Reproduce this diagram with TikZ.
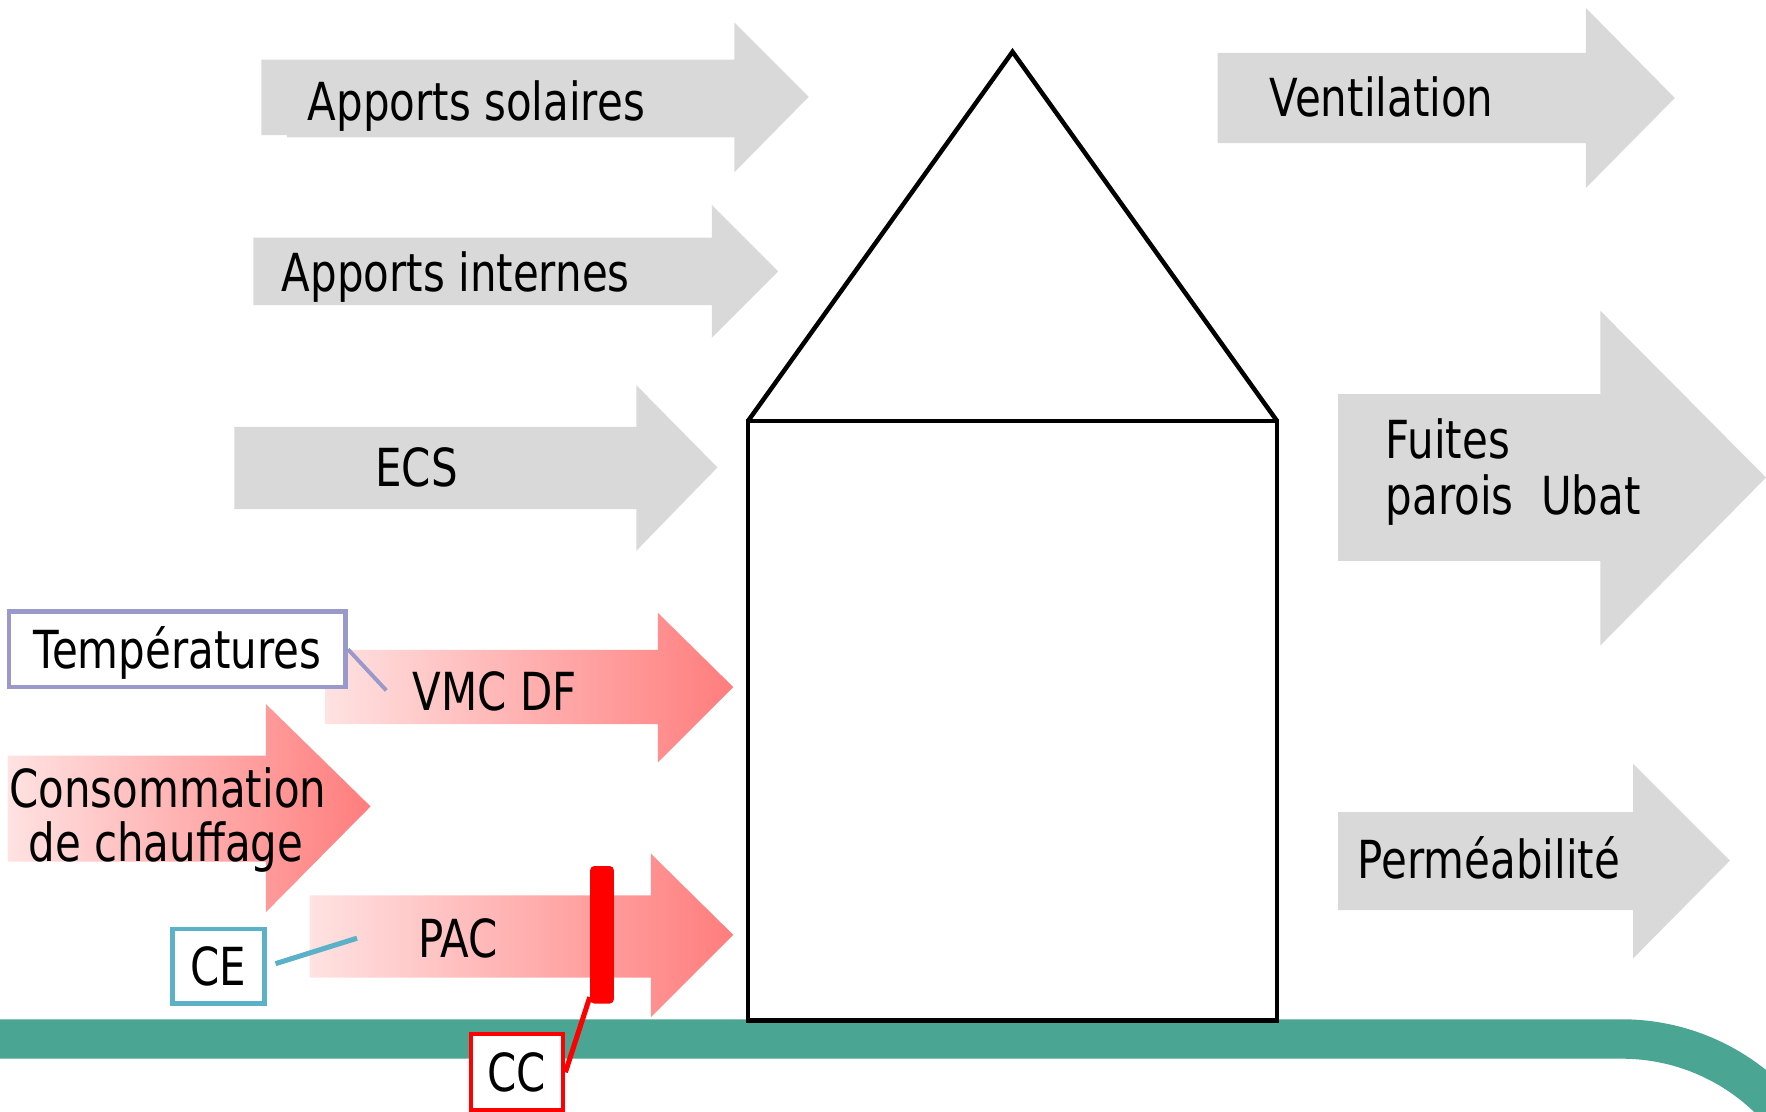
\documentclass[tikz,border=0pt]{standalone}
\usepackage{fontspec}
\setmainfont[FakeStretch=0.8]{DejaVu Sans}
\definecolor{arrgrey}{HTML}{D9D9D9}
\definecolor{lavend}{HTML}{9999CC}
\definecolor{cecol}{HTML}{5BB2C8}
\definecolor{bandgreen}{HTML}{4AA593}
\definecolor{pinkL}{RGB}{255,226,226}
\definecolor{pinkR}{RGB}{255,125,125}
\begin{document}
\begin{tikzpicture}[x=0.02cm,y=-0.02cm,
  every node/.style={font=\fontsize{26.5}{28}\selectfont},
  lbl/.style={anchor=base west,inner sep=0pt},
  greyarrow/.style={fill=arrgrey,draw=none},
  redarrow/.style={left color=pinkL,right color=pinkR,draw=none},
  housestyle/.style={draw=black,line width=0.08cm,line join=miter},
  tagbox/.style={draw,fill=white,line width=0.08cm,inner sep=0pt,text height=19.3pt,text depth=0pt},
  ]
\useasboundingbox (0,0) rectangle (1568,987);
% green band
\draw[bandgreen,line width=0.7cm] (-5,922.5) -- (1440,922.5) arc[start angle=270,end angle=345,radius=187];
% grey arrows
\path[greyarrow] (232,53) -- (652,53) -- (652,20) -- (718,86) -- (652,153) -- (652,122) -- (255,122) -- (255,120) -- (232,120) -- cycle;
\path[greyarrow] (225,211) -- (632,211) -- (632,182) -- (691,241) -- (632,300) -- (632,271) -- (225,271) -- cycle;
\path[greyarrow] (208,379) -- (565,379) -- (565,342) -- (637,415) -- (565,489) -- (565,452) -- (208,452) -- cycle;
\path[greyarrow] (1081,47) -- (1408,47) -- (1408,7) -- (1487,87) -- (1408,167) -- (1408,127) -- (1081,127) -- cycle;
\path[greyarrow] (1188,350) -- (1421,350) -- (1421,276) -- (1568,424) -- (1421,573) -- (1421,498) -- (1188,498) -- cycle;
\path[greyarrow] (1188,721) -- (1450,721) -- (1450,678) -- (1536,764) -- (1450,851) -- (1450,808) -- (1188,808) -- cycle;
% red arrows
\path[redarrow] (289,577) -- (584,577) -- (584,544) -- (651,610) -- (584,677) -- (584,643) -- (289,643) -- cycle;
\path[redarrow] (7,671) -- (236,671) -- (236,625) -- (329,716) -- (236,810) -- (236,765) -- (7,765) -- cycle;
\path[redarrow] (275,795) -- (578,795) -- (578,758) -- (651,830) -- (578,903) -- (578,868) -- (275,868) -- cycle;
% house
\draw[housestyle] (664,374) rectangle (1134,906);
\draw[housestyle] (664,374) -- (899,46) -- (1134,374);
% labels
\node[lbl] (solaires) at (273,107) {Apports solaires};
\node[lbl] (internes) at (250,259) {Apports internes};
\node[lbl] (ecs) at (333,432) {ECS};
\node[lbl] (ventil) at (1127,103) {Ventilation};
\node[lbl] (fuites) at (1230,407) {Fuites};
\node[lbl] (parois) at (1230,457) {parois\hspace{14pt}Ubat};
\node[lbl] (perm) at (1205,780) {Perméabilité};
\node[lbl] (vmc) at (366,631) {VMC DF};
\node[lbl] (conso) at (8,717) {Consommation};
\node[lbl] (chauff) at (25,765) {de chauffage};
\node[lbl] (pac) at (371,850) {PAC};
% tag boxes
\node[tagbox,draw=lavend,minimum width=5.98cm,minimum height=1.34cm] (temp) at (157.5,576.5) {Températures};
\coordinate (tempend) at (343,613);
\draw[lavend,line width=0.07cm] (temp.east) -- (tempend);
\node[tagbox,draw=cecol,minimum width=1.64cm,minimum height=1.32cm] (ce) at (194,858) {CE};
\coordinate (ceend) at (317,833);
\draw[cecol,line width=0.09cm,shorten <=0.16cm] (ce.east) -- (ceend);
\node[fill=red,draw=none,rounded corners=2pt,minimum width=0.42cm,minimum height=2.44cm,inner sep=0pt] (bar) at (534.5,830) {};
\node[tagbox,draw=red,minimum width=1.64cm,minimum height=1.36cm] (cc) at (459,952) {CC};
\draw[red,line width=0.09cm] ([yshift=0.12cm]bar.south west) -- (cc.east);
\end{tikzpicture}
\end{document}
